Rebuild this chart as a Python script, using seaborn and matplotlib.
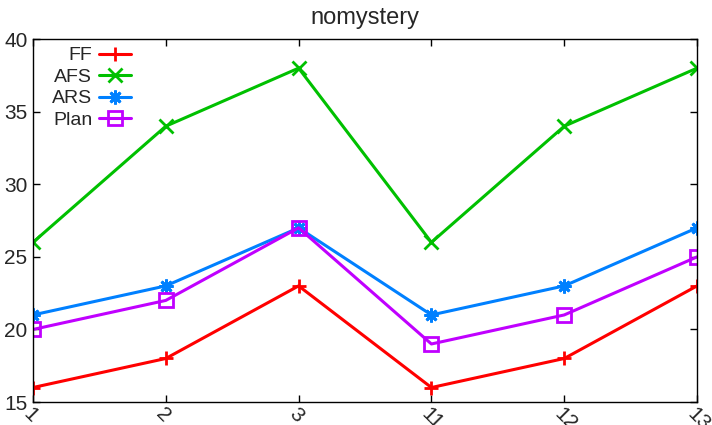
import matplotlib
matplotlib.use("Agg")
import matplotlib.pyplot as plt
import seaborn as sns
import pandas as pd

categories = ["1", "2", "3", "11", "12", "13"]
ff = [16, 18, 23, 16, 18, 23]
afs = [26, 34, 38, 26, 34, 38]
ars = [21, 23, 27, 21, 23, 27]
plan = [20, 22, 27, 19, 21, 25]

series = [
    ("FF", ff, "#ff0000", "+"),
    ("AFS", afs, "#00c000", "x"),
    ("ARS", ars, "#0080ff", (8, 2, 0)),
    ("Plan", plan, "#c000ff", "s"),
]

sns.set_style("ticks")
plt.rcParams["font.family"] = ["Liberation Sans", "DejaVu Sans"]

fig = plt.figure(figsize=(7.12, 4.25), dpi=100)
ax = fig.add_axes([0.0463, 0.054, 0.9327, 0.854])

for name, vals, col, mk in series:
    df = pd.DataFrame({"x": range(len(categories)), "y": vals})
    sns.lineplot(data=df, x="x", y="y", ax=ax, color=col, lw=2.2, label=name,
                 marker=mk, markersize=10, markeredgewidth=2,
                 markerfacecolor="none", markeredgecolor=col)

ax.set_xlim(0, len(categories) - 1)
ax.set_ylim(15, 40)
ax.set_yticks([15, 20, 25, 30, 35, 40])
ax.set_xticks(range(len(categories)))
ax.set_xticklabels(categories, rotation=-45, ha="left", va="top",
                   rotation_mode="anchor")
ax.tick_params(direction="in", length=5, width=1, labelsize=15,
               top=True, right=True, color="black")
ax.tick_params(axis="x", pad=2)
ax.tick_params(axis="y", pad=4)
for s in ax.spines.values():
    s.set_linewidth(1)
    s.set_color("black")
ax.set_xlabel("")
ax.set_ylabel("")
ax.set_title("nomystery", fontsize=17, pad=11)

ax.legend(loc="upper left", frameon=False, markerfirst=False, fontsize=14,
          handlelength=1.65, labelspacing=0.2, borderaxespad=0,
          handletextpad=0.36, bbox_to_anchor=(0.017, 1.0))

fig.savefig("out.png", dpi=100)
